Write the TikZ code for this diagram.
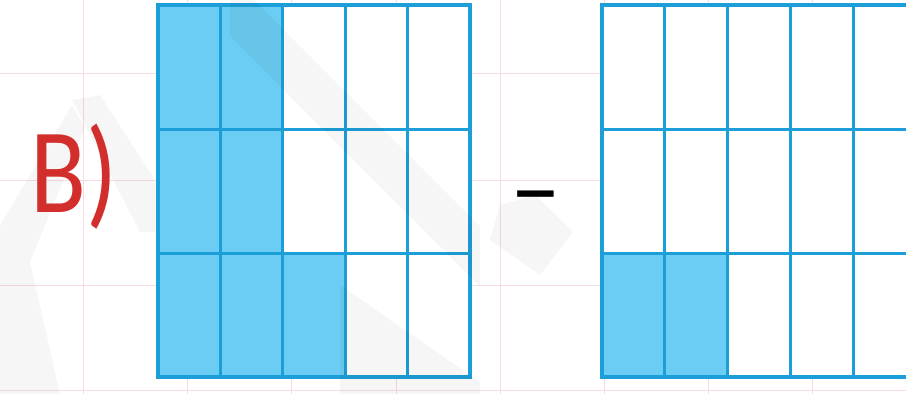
\documentclass[tikz,border=0pt]{standalone}
\usepackage{fontspec}
\setmainfont{Carlito}
\definecolor{cellfill}{HTML}{6BCDF3}
\definecolor{gridblue}{HTML}{1C9ED8}
\definecolor{pinkline}{HTML}{F6DCE2}
\definecolor{labelred}{HTML}{D12E2C}
\tikzset{
  pinkgrid/.style={draw=pinkline, line width=1pt},
  cellline/.style={draw=gridblue, line width=3pt},
  outerline/.style={draw=gridblue, line width=3.6pt},
  shaded/.style={fill=cellfill},
  watermark/.style={fill=black, fill opacity=0.035},
}
\begin{document}
\begin{tikzpicture}[x=1pt,y=-1pt]
\useasboundingbox (0,0) rectangle (906,394);
\clip (0,0) rectangle (906,394);
\fill[white] (0,0) rectangle (906,394);
% faint pink ruling
\foreach \x in {83,187,291,396,500,604,708,812}
  \draw[pinkgrid] (\x,0) -- (\x,394);
\foreach \y in {73,180,285,390}
  \draw[pinkgrid] (0,\y) -- (906,\y);
% left grid
\fill[white] (158,5) rectangle (470,377);
\foreach \c/\r in {0/0,1/0,0/1,1/1,0/2,1/2,2/2}
  \fill[shaded] ({158+\c*62.4},{5+\r*124}) rectangle ++(62.4,124);
\foreach \i in {1,...,4}
  \draw[cellline] ({158+\i*62.4},5) -- ({158+\i*62.4},377);
\foreach \j in {1,2}
  \draw[cellline] (158,{5+\j*124}) -- (470,{5+\j*124});
\draw[outerline] (158,5) rectangle (470,377);
% right grid
\fill[white] (602,5) rectangle (916,377);
\foreach \c/\r in {0/2,1/2}
  \fill[shaded] ({602+\c*62.8},{5+\r*124}) rectangle ++(62.8,124);
\foreach \i in {1,...,4}
  \draw[cellline] ({602+\i*62.8},5) -- ({602+\i*62.8},377);
\foreach \j in {1,2}
  \draw[cellline] (602,{5+\j*124}) -- (916,{5+\j*124});
\draw[outerline] (602,5) rectangle (916,377);
% watermark shapes
\fill[watermark] (230,-24) -- (480,226) -- (480,286) -- (230,36) -- cycle;
\fill[watermark] (500,205) -- (535,195) -- (573,232) -- (540,275) -- (490,240) -- cycle;
\fill[watermark] (340,285) -- (480,382) -- (480,394) -- (340,394) -- cycle;
\fill[watermark] (72,105) -- (0,225) -- (0,394) -- (60,394) -- (30,262) -- (85,128) -- cycle;
\fill[watermark] (72,100) -- (100,95) -- (155,180) -- (155,232) -- (140,232) -- cycle;
% labels
\node[anchor=base west, inner sep=0pt, text=labelred, font=\fontsize{121}{121}\selectfont, xscale=0.85] (lbl) at (30,212) {B)};
\node[inner sep=0pt, text=black, font=\fontsize{102}{102}\selectfont] (minus) at (536,207) {\textendash};
\end{tikzpicture}
\end{document}
